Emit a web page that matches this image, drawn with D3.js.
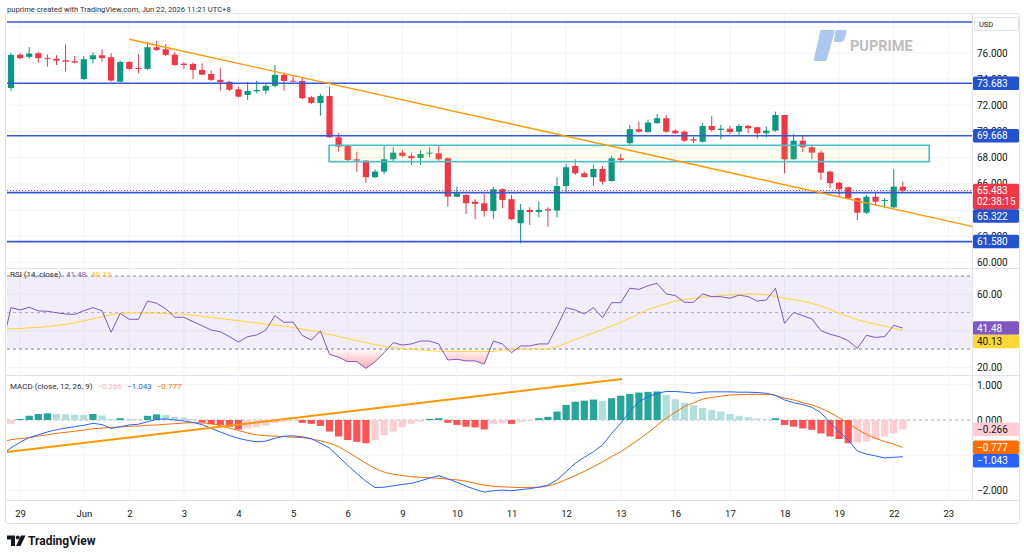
<!DOCTYPE html>
<html>
<head>
<meta charset="utf-8">
<script src="https://cdn.jsdelivr.net/npm/d3@7"></script>
<style>
  body { margin: 0; background: #fff; }
  svg { display: block; font-family: Roboto, "Noto Sans", sans-serif; }
</style>
</head>
<body>
<svg id="chart" width="1024" height="558"></svg>
<script>
// 4h candles, index 0 = last bar of May 28
const opens = [73.32,75.87,75.70,75.98,75.60,75.56,75.44,75.37,74.01,75.52, 75.82,75.67,73.80,75.31,74.85,74.78,76.44,76.28,75.87,75.18, 75.16,74.70,74.39,73.94,73.80,73.22,72.79,73.07,73.12,73.48, 74.32,73.88,73.86,72.61,72.18,72.71,69.55,68.89,67.87,67.77, 66.50,66.93,67.87,68.38,68.13,67.97,68.33,68.33,67.95,65.01, 65.14,64.63,64.51,63.92,65.58,64.82,62.98,64.00,63.84,64.05, 63.95,65.83,67.36,66.80,66.50,67.13,66.21,67.95,69.10,70.17, 69.95,70.63,71.01,70.06,69.98,69.40,69.21,70.42,70.11,70.21, 69.98,70.42,70.32,69.86,70.06,71.26,67.87,69.29,68.79,68.38, 66.93,66.08,65.73,64.89,63.79,65.01,64.68,64.20,65.78];
const highs = [76.00,75.98,76.45,76.10,75.90,75.82,76.66,75.77,75.77,76.05, 76.28,75.98,75.41,75.39,75.92,76.84,76.94,76.69,76.05,75.29, 75.26,75.21,74.65,74.83,73.86,73.42,73.78,73.86,73.68,75.08, 74.49,74.19,74.14,72.71,72.87,73.42,69.86,68.97,68.45,67.82, 67.10,68.89,68.79,68.58,68.38,68.53,68.79,68.89,68.03,65.78, 65.22,64.82,65.22,65.78,65.65,65.14,64.46,64.20,64.63,64.20, 66.50,67.51,67.87,66.93,67.44,67.36,68.13,68.28,70.50,70.75, 70.90,71.34,71.26,70.17,70.06,69.60,70.63,71.18,70.50,70.42, 70.57,70.50,70.37,70.37,71.51,71.26,69.80,69.65,68.97,68.53, 67.00,66.16,65.78,64.97,65.14,65.40,64.89,67.10,66.16];
const lows = [73.10,75.52,75.55,75.25,74.95,75.08,74.57,75.20,73.94,75.20, 75.34,73.80,73.76,74.70,74.45,74.70,76.15,75.77,75.00,74.78, 74.01,74.30,73.86,73.12,73.09,72.61,72.41,72.92,72.87,73.38, 73.12,73.76,72.46,72.10,71.21,69.52,68.45,67.69,66.92,66.08, 66.45,66.75,67.69,68.03,67.44,67.44,68.03,67.77,64.25,64.97, 63.69,63.29,63.49,63.31,64.13,63.23,61.45,62.85,63.44,62.72, 63.44,65.32,66.67,66.50,65.83,65.93,66.16,67.61,68.97,69.90, 69.90,70.57,69.90,69.82,69.21,69.10,69.14,69.98,69.40,69.80, 69.73,69.86,69.47,69.55,69.98,66.80,67.82,68.45,67.87,66.29, 65.65,65.01,64.82,63.23,63.69,64.30,64.13,64.13,65.32];
const closes = [75.85,75.60,75.95,75.60,75.55,75.41,75.33,75.26,75.52,75.82, 75.60,73.89,75.31,74.78,74.78,76.44,76.23,75.85,75.08,75.08, 74.70,74.34,73.94,73.76,73.19,72.66,73.09,73.17,73.48,74.32, 73.86,73.81,72.54,72.18,72.71,69.55,68.84,67.82,67.77,66.50, 66.93,67.87,68.38,68.13,67.95,68.28,68.38,67.87,65.01,65.27, 64.51,64.46,63.92,65.58,64.76,63.29,64.00,63.84,64.00,63.95, 65.83,67.26,66.80,66.50,67.13,66.16,67.95,67.82,70.17,69.98, 70.68,71.01,69.98,69.86,69.29,69.30,70.42,70.11,70.21,69.96, 70.42,70.24,69.86,70.06,71.26,67.87,69.29,68.79,68.38,66.85, 66.04,65.58,64.89,63.79,65.01,64.63,64.76,65.78,65.483];

// indicator series start one bar earlier (index -1)
const indStart = -1;
const rsiValues = [31.0, 52.7,51.4,52.9,50.9,50.7,49.9,49.2,49.0,51.0,52.7, 51.0,39.2,49.6,46.3,46.3,56.3,55.1,52.1,47.4,47.4, 45.0,42.8,40.4,39.5,36.8,33.9,36.8,37.7,40.4,48.3, 44.6,44.8,37.5,35.0,39.9,27.1,25.5,23.1,23.1,19.4, 23.1,28.0,33.5,32.2,32.8,34.4,34.4,32.8,24.0,24.4, 23.5,23.5,21.8,34.4,32.8,28.0,31.7,31.7,32.8,32.8, 42.3,52.7,51.4,49.2,52.7,47.2,55.4,55.4,63.3,62.7, 64.7,66.0,60.2,59.3,55.6,55.6,60.2,58.7,58.7,57.8, 59.6,58.7,56.3,56.9,63.3,44.1,50.1,48.3,46.5,40.1, 38.1,36.8,34.6,30.4,37.5,36.4,36.8,43.0,41.48];
const rsiMa = [40.8, 41.1,41.3,41.6,41.9,42.3,42.9,43.5,44.4,45.4,46.6, 47.7,48.8,49.6,49.8,49.8,49.7,49.6,49.5,49.3,49.0, 48.5,47.9,47.3,46.7,46.1,45.5,44.9,44.3,43.7,43.1, 42.6,41.8,40.9,40.1,39.2,38.1,36.9,35.7,34.6,33.5, 32.5,31.6,30.9,30.2,29.8,29.5,29.1,28.8,28.7,28.6, 28.6,28.6,28.6,28.8,29.2,29.7,29.9,29.9,29.9,30.1, 31.3,33.2,35.2,37.0,38.8,40.7,42.6,44.6,46.8,49.2, 51.6,53.3,54.8,56.2,57.2,57.8,58.4,58.8,59.2,59.6, 60.0,60.2,60.1,59.7,58.9,57.8,57.2,56.3,55.0,53.6, 51.8,49.6,47.9,46.1,44.8,43.6,42.6,41.4,40.13];
const macdLine = [-0.99, -0.79,-0.63,-0.50,-0.42,-0.34,-0.275,-0.23,-0.19,-0.15,-0.095, -0.13,-0.24,-0.19,-0.14,-0.12,-0.05,0.02,0.03,0.00,-0.03, -0.07,-0.13,-0.24,-0.34,-0.44,-0.52,-0.58,-0.62,-0.60,-0.52, -0.46,-0.45,-0.48,-0.53,-0.66,-0.80,-1.04,-1.29,-1.52,-1.74, -1.92,-1.91,-1.87,-1.83,-1.80,-1.73,-1.65,-1.58,-1.67,-1.77, -1.88,-1.97,-2.05,-2.01,-1.99,-2.01,-1.98,-1.95,-1.91,-1.85, -1.70,-1.47,-1.23,-1.06,-0.90,-0.71,-0.38,-0.095,0.24,0.52, 0.66,0.76,0.81,0.81,0.79,0.76,0.79,0.80,0.80,0.80, 0.79,0.79,0.78,0.76,0.70,0.57,0.49,0.44,0.36,0.21, -0.08,-0.33,-0.57,-0.88,-0.97,-1.02,-1.08,-1.06,-1.043];
const signalLine = [-0.62, -0.56,-0.53,-0.50,-0.455,-0.42,-0.38,-0.35,-0.32,-0.285,-0.25, -0.23,-0.21,-0.20,-0.18,-0.17,-0.15,-0.14,-0.12,-0.105,-0.085, -0.076,-0.085,-0.105,-0.16,-0.23,-0.30,-0.37,-0.42,-0.445,-0.46, -0.47,-0.49,-0.50,-0.54,-0.59,-0.66,-0.76,-0.91,-1.07,-1.23, -1.37,-1.48,-1.54,-1.58,-1.61,-1.63,-1.64,-1.66,-1.68,-1.70, -1.74,-1.80,-1.85,-1.88,-1.90,-1.91,-1.92,-1.92,-1.91,-1.87, -1.80,-1.69,-1.58,-1.46,-1.33,-1.19,-1.04,-0.90,-0.73,-0.55, -0.36,-0.15,0.05,0.22,0.38,0.49,0.59,0.64,0.68,0.71, 0.72,0.73,0.73,0.73,0.70,0.62,0.57,0.49,0.43,0.33, 0.21,0.065,-0.095,-0.26,-0.41,-0.52,-0.61,-0.69,-0.777];
const histValues = [-0.15, -0.11,0.03,0.12,0.17,0.19,0.17,0.16,0.15,0.148,0.17, 0.13,0.03,0.05,0.03,0.02,0.12,0.16,0.14,0.09,0.07, 0.03,-0.07,-0.12,-0.14,-0.19,-0.27,-0.24,-0.21,-0.16,-0.09, -0.05,-0.02,-0.08,-0.11,-0.17,-0.33,-0.47,-0.57,-0.62,-0.66, -0.57,-0.43,-0.33,-0.21,-0.11,-0.05,0.03,0.05,-0.08,-0.14, -0.19,-0.21,-0.27,-0.11,-0.095,-0.11,-0.05,-0.02,0.05,0.09, 0.24,0.43,0.52,0.55,0.58,0.54,0.62,0.69,0.74,0.78, 0.80,0.81,0.71,0.59,0.49,0.42,0.34,0.28,0.24,0.17, 0.12,0.08,0.04,0.01,0.05,-0.14,-0.19,-0.24,-0.28,-0.38, -0.47,-0.54,-0.66,-0.64,-0.61,-0.55,-0.47,-0.38,-0.266];

// time axis
const dayTicks = [1, 8, 13, 19, 25, 31, 37, 43, 49, 55, 61, 67, 73, 79, 85, 91, 97, 103];
const dayLabels = ["29", "Jun", "2", "3", "4", "5", "6", "9", "10", "11", "12", "13", "16", "17", "18", "19", "22", "23"];

// price ticks and drawings
const priceTicks = [60, 62, 64, 66, 68, 70, 72, 74, 76, 78];
const priceTickLabels = [60, 62, 64, 66, 68, 70, 72, 74, 76];
const levelLines = [78.37, 73.683, 69.668, 65.322, 61.58];
const zoneBox = { i0: 34.95, i1: 100.9, p0: 67.69, p1: 68.94 };
const trendMain = [[13.0, 77.05], [105.6, 62.74]];
const trendMacd = [[-0.44, -0.91], [67.14, 1.165]];
const rsiTicks = [20, 40, 60];
const rsiTickLabels = [20, 60];
const rsiBands = [70, 50, 30];
const macdTicks = [1, 0, -1, -2];
const macdTickLabels = [1, 0, -2];
const lastPrice = 65.483;

const svg = d3.select("#chart");
const plotL = 7, plotR = 972;
const mainTop = 12, mainBot = 268, rsiTop = 269, rsiBot = 375, macdTop = 376, macdBot = 500;

const x = d3.scaleLinear().domain([-0.44, 105.6]).range([plotL, plotR]);
const yMain = d3.scaleLinear().domain([59.56, 79.13]).range([mainBot, mainTop]);
const yRsi = d3.scaleLinear().domain([15.78, 73.86]).range([rsiBot, rsiTop]);
const yMacd = d3.scaleLinear().domain([-2.273, 1.25]).range([macdBot, macdTop]);

const candles = opens.map((o, i) => ({ i, o, h: highs[i], l: lows[i], c: closes[i] }));
const ind = (arr) => arr.map((v, k) => ({ i: k + indStart, v }));

const defs = svg.append("defs");
[["clipMain", mainTop, mainBot], ["clipRsi", rsiTop, rsiBot], ["clipMacd", macdTop, macdBot]].forEach(([id, t, b]) => {
  defs.append("clipPath").attr("id", id).append("rect")
    .attr("x", plotL).attr("y", t).attr("width", plotR - plotL).attr("height", b - t);
});
defs.append("clipPath").attr("id", "clipOversold").append("rect")
  .attr("x", plotL).attr("y", yRsi(30)).attr("width", plotR - plotL).attr("height", rsiBot - yRsi(30));
const grad = defs.append("linearGradient").attr("id", "osGrad")
  .attr("gradientUnits", "userSpaceOnUse").attr("x1", 0).attr("x2", 0)
  .attr("y1", yRsi(30)).attr("y2", yRsi(18));
grad.append("stop").attr("offset", 0).attr("stop-color", "#f23645").attr("stop-opacity", 0.03);
grad.append("stop").attr("offset", 1).attr("stop-color", "#f23645").attr("stop-opacity", 0.45);

// header
svg.append("text").attr("x", 7).attr("y", 9).attr("dy", "0.35em")
  .style("font-size", "7.6px").attr("fill", "#2a2e39")
  .text("puprime created with TradingView.com, Jun 22, 2026 11:21 UTC+8");

// frame & separators
const frame = svg.append("g").attr("stroke", "#e0e3eb").attr("fill", "none");
frame.append("rect").attr("x", 5.5).attr("y", 13.5).attr("width", 1014).attr("height", 510).attr("rx", 2);
[rsiTop - 0.5, macdTop - 0.5, macdBot + 0.5].forEach(y => {
  frame.append("line").attr("x1", 6).attr("x2", 1019).attr("y1", y).attr("y2", y);
});
frame.append("line").attr("x1", plotR + 0.5).attr("x2", plotR + 0.5).attr("y1", 14).attr("y2", macdBot);

// grid
const grid = svg.append("g").attr("stroke", "#f0f3fa").attr("stroke-width", 1);
dayTicks.forEach(t => {
  if (x(t) < plotR) grid.append("line").attr("x1", x(t)).attr("x2", x(t)).attr("y1", 14).attr("y2", macdBot);
});
priceTicks.forEach(p => grid.append("line").attr("x1", plotL).attr("x2", plotR).attr("y1", yMain(p)).attr("y2", yMain(p)));
rsiTicks.forEach(p => grid.append("line").attr("x1", plotL).attr("x2", plotR).attr("y1", yRsi(p)).attr("y2", yRsi(p)));
macdTicks.forEach(p => grid.append("line").attr("x1", plotL).attr("x2", plotR).attr("y1", yMacd(p)).attr("y2", yMacd(p)));

// watermark
const wm = svg.append("g");
wm.append("path").attr("fill", "#adc8ef")
  .attr("d", "M821 30 L833 30 Q835 30 834.5 32 L827 59 Q826.5 61 824.5 61 L815 61 Q813.5 61 814 59 L820 32 Q820.5 30 821 30 Z");
wm.append("path").attr("fill", "#adc8ef")
  .attr("d", "M835.5 30 L845 30 Q847 30 846.5 32 L845 38 Q844 42 840 42 L834 42 Z");
wm.append("text").attr("x", 850).attr("y", 46).attr("dy", "0.35em")
  .style("font-size", "14.5px").style("font-weight", "700").attr("fill", "#bcbcbc").text("PUPRIME");

// ---------- main pane ----------
const main = svg.append("g").attr("clip-path", "url(#clipMain)");
const bw = 6.2;
const cg = main.selectAll("g.candle").data(candles).join("g")
  .attr("fill", d => d.c >= d.o ? "#089981" : "#f23645")
  .attr("stroke", d => d.c >= d.o ? "#089981" : "#f23645");
cg.append("line")
  .attr("x1", d => x(d.i)).attr("x2", d => x(d.i))
  .attr("y1", d => yMain(d.h)).attr("y2", d => yMain(d.l))
  .attr("stroke-width", 1);
cg.append("rect")
  .attr("x", d => x(d.i) - bw / 2).attr("width", bw)
  .attr("y", d => yMain(Math.max(d.o, d.c)))
  .attr("height", d => Math.max(1, Math.abs(yMain(d.o) - yMain(d.c))))
  .attr("stroke", "none");

// zone
main.append("rect")
  .attr("x", x(zoneBox.i0)).attr("width", x(zoneBox.i1) - x(zoneBox.i0))
  .attr("y", yMain(zoneBox.p1)).attr("height", yMain(zoneBox.p0) - yMain(zoneBox.p1))
  .attr("fill", "rgba(255,235,59,0.09)").attr("stroke", "#45bfcd").attr("stroke-width", 1.6);

// levels
main.selectAll("line.level").data(levelLines).join("line")
  .attr("x1", plotL).attr("x2", plotR)
  .attr("y1", d => yMain(d)).attr("y2", d => yMain(d))
  .attr("stroke", "#3559d3").attr("stroke-width", 1.6);

// last price
main.append("line").attr("x1", plotL).attr("x2", plotR)
  .attr("y1", yMain(lastPrice)).attr("y2", yMain(lastPrice))
  .attr("stroke", "#f23645").attr("stroke-dasharray", "1,2").attr("stroke-width", 1);

// trend line
main.append("line")
  .attr("x1", x(trendMain[0][0])).attr("y1", yMain(trendMain[0][1]))
  .attr("x2", x(trendMain[1][0])).attr("y2", yMain(trendMain[1][1]))
  .attr("stroke", "#ff9800").attr("stroke-width", 1.4);

// ---------- RSI pane ----------
const rsiG = svg.append("g").attr("clip-path", "url(#clipRsi)");
rsiG.append("rect").attr("x", plotL).attr("width", plotR - plotL)
  .attr("y", yRsi(70)).attr("height", yRsi(30) - yRsi(70))
  .attr("fill", "rgba(126,87,194,0.1)");
rsiBands.forEach(b => {
  rsiG.append("line").attr("x1", plotL).attr("x2", plotR).attr("y1", yRsi(b)).attr("y2", yRsi(b))
    .attr("stroke", "#787b86").attr("stroke-opacity", b === 50 ? 0.5 : 0.9)
    .attr("stroke-dasharray", "3,3");
});
const rsiData = ind(rsiValues);
rsiG.append("path").datum(rsiData)
  .attr("clip-path", "url(#clipOversold)")
  .attr("fill", "url(#osGrad)")
  .attr("d", d3.area().x(d => x(d.i)).y0(yRsi(30)).y1(d => yRsi(d.v)));
rsiG.append("path").datum(ind(rsiMa))
  .attr("fill", "none").attr("stroke", "#fdd835").attr("stroke-width", 1)
  .attr("d", d3.line().x(d => x(d.i)).y(d => yRsi(d.v)));
rsiG.append("path").datum(rsiData)
  .attr("fill", "none").attr("stroke", "#7e57c2").attr("stroke-width", 1)
  .attr("d", d3.line().x(d => x(d.i)).y(d => yRsi(d.v)));

// ---------- MACD pane ----------
const macdG = svg.append("g").attr("clip-path", "url(#clipMacd)");
macdG.append("line").attr("x1", plotL).attr("x2", plotR).attr("y1", yMacd(0)).attr("y2", yMacd(0))
  .attr("stroke", "#b2b5be").attr("stroke-dasharray", "3,3");
const hist = ind(histValues);
macdG.selectAll("rect.hist").data(hist).join("rect")
  .attr("x", d => x(d.i) - 3.6).attr("width", 7.2)
  .attr("y", d => yMacd(Math.max(0, d.v)))
  .attr("height", d => Math.abs(yMacd(d.v) - yMacd(0)))
  .attr("fill", (d, k) => {
    const prev = k > 0 ? hist[k - 1].v : d.v;
    if (d.v >= 0) return d.v >= prev ? "#26a69a" : "#b2dfdb";
    return d.v < prev ? "#ff5252" : "#ffcdd2";
  });
macdG.append("path").datum(ind(signalLine))
  .attr("fill", "none").attr("stroke", "#ff6d00").attr("stroke-width", 1)
  .attr("d", d3.line().curve(d3.curveMonotoneX).x(d => x(d.i)).y(d => yMacd(d.v)));
macdG.append("path").datum(ind(macdLine))
  .attr("fill", "none").attr("stroke", "#2962ff").attr("stroke-width", 1)
  .attr("d", d3.line().x(d => x(d.i)).y(d => yMacd(d.v)));
macdG.append("line")
  .attr("x1", x(trendMacd[0][0])).attr("y1", yMacd(trendMacd[0][1]))
  .attr("x2", x(trendMacd[1][0])).attr("y2", yMacd(trendMacd[1][1]))
  .attr("stroke", "#ff9800").attr("stroke-width", 2);

// ---------- axes ----------
const styleAxis = g => {
  g.select(".domain").remove();
  g.selectAll(".tick line").remove();
  g.selectAll("text").attr("fill", "#131722").style("font-size", "10px").style("font-family", "Roboto, sans-serif");
};
svg.append("g").attr("transform", `translate(${plotR},0)`)
  .call(d3.axisRight(yMain).tickValues(priceTickLabels).tickFormat(d3.format(".3f")).tickSize(0).tickPadding(5))
  .call(styleAxis);
svg.append("g").attr("transform", `translate(${plotR},0)`)
  .call(d3.axisRight(yRsi).tickValues(rsiTickLabels).tickFormat(d3.format(".2f")).tickSize(0).tickPadding(5))
  .call(styleAxis);
svg.append("g").attr("transform", `translate(${plotR},0)`)
  .call(d3.axisRight(yMacd).tickValues(macdTickLabels).tickFormat(d3.format(".3f")).tickSize(0).tickPadding(5))
  .call(styleAxis);
svg.append("g").attr("transform", `translate(0,${macdBot + 4})`)
  .call(d3.axisBottom(x).tickValues(dayTicks).tickFormat((d, k) => dayLabels[k]).tickSize(0).tickPadding(6.5))
  .call(styleAxis)
  .selectAll("text").style("font-size", "9.5px");

// ---------- right-side tags ----------
const tags = svg.append("g").style("font-size", "10px");
function placeTags(list) {
  list.sort((a, b) => a.y - b.y);
  let bottom = -Infinity;
  list.forEach(t => {
    const h = t.lines.length * 12 + 1.5;
    const top = Math.max(t.y - 6.8, bottom);
    tags.append("rect").attr("x", plotR + 1).attr("y", top).attr("width", 46).attr("height", h)
      .attr("rx", 1.5).attr("fill", t.bg);
    t.lines.forEach((s, k) => {
      tags.append("text").attr("x", plotR + 5).attr("y", top + 6.8 + k * 11).attr("dy", "0.35em")
        .attr("fill", t.fg).text(s);
    });
    bottom = top + h;
  });
}
const f3 = d3.format(".3f"), f2 = d3.format(".2f");
placeTags(levelLines.slice(1).map(v => ({ y: yMain(v), lines: [f3(v)], bg: "#2452cf", fg: "#fff" }))
  .concat([{ y: yMain(lastPrice) - 0.01, lines: [f3(lastPrice), "02:38:15"], bg: "#f23645", fg: "#fff" }]));
placeTags([
  { y: yRsi(rsiValues[rsiValues.length - 1]), lines: [f2(rsiValues[rsiValues.length - 1])], bg: "#7e57c2", fg: "#fff" },
  { y: yRsi(rsiMa[rsiMa.length - 1]), lines: [f2(rsiMa[rsiMa.length - 1])], bg: "#fdd835", fg: "#131722" }
]);
placeTags([
  { y: yMacd(histValues[histValues.length - 1]), lines: [f3(histValues[histValues.length - 1])], bg: "#ffcdd2", fg: "#131722" },
  { y: yMacd(signalLine[signalLine.length - 1]), lines: [f3(signalLine[signalLine.length - 1])], bg: "#ff6d00", fg: "#fff" },
  { y: yMacd(macdLine[macdLine.length - 1]), lines: [f3(macdLine[macdLine.length - 1])], bg: "#2962ff", fg: "#fff" }
]);
// currency box
tags.append("rect").attr("x", plotR + 2.5).attr("y", 17.5).attr("width", 44).attr("height", 13)
  .attr("rx", 2).attr("fill", "#fff").attr("stroke", "#e0e3eb");
tags.append("text").attr("x", plotR + 7).attr("y", 24).attr("dy", "0.35em")
  .style("font-size", "7.5px").attr("fill", "#131722").text("USD");

// ---------- legends ----------
function legend(y, parts) {
  const t = svg.append("text").attr("x", 10).attr("y", y).attr("dy", "0.35em").style("font-size", "8px");
  parts.forEach(([s, c], k) => t.append("tspan").attr("dx", k ? 5 : 0).attr("fill", c).text(s));
}
legend(274, [["RSI (14, close)", "#2a2e39"], [f2(rsiValues[rsiValues.length - 1]), "#7e57c2"], [f2(rsiMa[rsiMa.length - 1]), "#f9c80e"]]);
legend(386, [["MACD (close, 12, 26, 9)", "#2a2e39"], [f3(histValues[histValues.length - 1]), "#ffb3bb"],
  [f3(macdLine[macdLine.length - 1]), "#2962ff"], [f3(signalLine[signalLine.length - 1]), "#ff6d00"]]);

// ---------- footer logo ----------
const logo = svg.append("g").attr("fill", "#131722");
logo.append("path").attr("d", "M7 535.5 H15 V546 H11 V539.5 H7 Z");
logo.append("circle").attr("cx", 17.8).attr("cy", 537.6).attr("r", 2);
logo.append("path").attr("d", "M21 535.5 H25.5 L20.5 546 H16 Z");
logo.append("text").attr("x", 28).attr("y", 541).attr("dy", "0.35em")
  .style("font-size", "12px").style("font-weight", "700").text("TradingView");
</script>
</body>
</html>
